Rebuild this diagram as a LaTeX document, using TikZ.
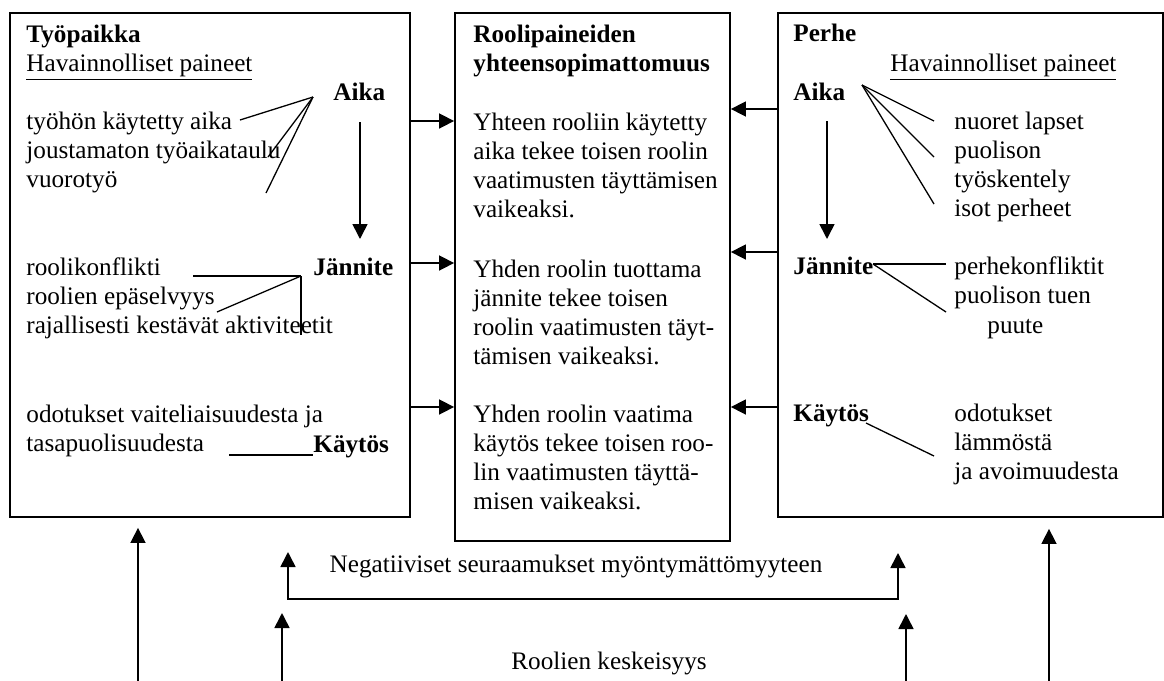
\documentclass[tikz,border=0pt]{standalone}
\usepackage{fontspec}
\setmainfont{Liberation Serif}
\usetikzlibrary{arrows.meta, positioning}
\tikzset{
  box/.style  = {draw, line width=0.9pt, inner sep=0pt},
  txt/.style  = {inner sep=0pt, anchor=base west, align=left, font=\fontsize{12.6pt}{14.5pt}\selectfont},
  hd/.style   = {txt, font=\fontsize{12.6pt}{14.5pt}\selectfont\bfseries},
  ln/.style   = {draw, line width=0.65pt},
  arr/.style  = {draw, line width=0.8pt, -{Triangle[length=7.5pt, width=7.5pt]}},
  darr/.style = {draw, line width=0.8pt, {Triangle[length=7.5pt, width=7.5pt]}-{Triangle[length=7.5pt, width=7.5pt]}},
}
\begin{document}
\begin{tikzpicture}[x=0.5pt, y=-0.5pt]
\useasboundingbox (0,0) rectangle (1164,681);

% boxes
\node [box, minimum width=200pt,   minimum height=252pt] at (210  , 265) (tyo)   {};
\node [box, minimum width=137.5pt, minimum height=264pt] at (592.5, 277) (rool)  {};
\node [box, minimum width=192.5pt, minimum height=252pt] at (970.5, 265) (perhe) {};

% tyopaikka (multi-line nodes sit on their last line)
\node [hd]  at ( 26,  42) (tyoT)  {Työpaikka};
\node [txt] at ( 26,  71) (tyoH)  {\underline{Havainnolliset paineet}};
\node [hd]  at (333, 100) (tyoA)  {Aika};
\node [txt] at ( 26, 187) (tyoAt) {työhön käytetty aika\\joustamaton työaikataulu\\vuorotyö};
\node [hd]  at (313, 275) (tyoJ)  {Jännite};
\node [txt] at ( 26, 333) (tyoJt) {roolikonflikti\\roolien epäselvyys\\rajallisesti kestävät aktiviteetit};
\node [txt] at ( 26, 451) (tyoKt) {odotukset vaiteliaisuudesta ja\\tasapuolisuudesta};
\node [hd]  at (313, 452) (tyoK)  {Käytös};

% roolipaineet
\node [hd]  at (473,  71) (roolT) {Roolipaineiden\\yhteensopimattomuus};
\node [txt] at (473, 217) (roolA) {Yhteen rooliin käytetty\\aika tekee toisen roolin\\vaatimusten täyttämisen\\vaikeaksi.};
\node [txt] at (473, 364) (roolJ) {Yhden roolin tuottama\\jännite tekee toisen\\roolin vaatimusten täyt-\\tämisen vaikeaksi.};
\node [txt] at (473, 509) (roolK) {Yhden roolin vaatima\\käytös tekee toisen roo-\\lin vaatimusten täyttä-\\misen vaikeaksi.};

% perhe
\node [hd]  at (793,  41) (perT)  {Perhe};
\node [txt] at (890,  71) (perH)  {\underline{Havainnolliset paineet}};
\node [hd]  at (793, 100) (perA)  {Aika};
\node [txt] at (954, 216) (perAt) {nuoret lapset\\puolison\\työskentely\\isot perheet};
\node [hd]  at (793, 274) (perJ)  {Jännite};
\node [txt] at (954, 303) (perJt) {perhekonfliktit\\puolison tuen};
\node [txt] at (987, 333) (perJp) {puute};
\node [hd]  at (793, 421) (perK)  {Käytös};
\node [txt] at (954, 479) (perKt) {odotukset\\lämmöstä\\ja avoimuudesta};

% bottom labels
\node [txt, anchor=center] at (576, 566) (neg)  {Negatiiviset seuraamukset myöntymättömyyteen};
\node [txt, anchor=center] at (609, 663) (kesk) {Roolien keskeisyys};

% fan points
\coordinate (tyoAp) at (313,  97);
\coordinate (tyoA1) at (240, 120);
\coordinate (tyoA2) at (268, 157);
\coordinate (tyoA3) at (266, 193);
\coordinate (tyoAd) at (360, 122);
\coordinate (tyoJu) at (360, 239);
\coordinate (tyoJp) at (301, 276);
\coordinate (tyoJ1) at (193, 276);
\coordinate (tyoJ2) at (217, 312);
\coordinate (tyoJ3) at (301, 335);
\coordinate (tyoK1) at (229, 455);
\coordinate (perAp) at (862,  85);
\coordinate (perA1) at (934, 121);
\coordinate (perA2) at (934, 157);
\coordinate (perA3) at (934, 204);
\coordinate (perAd) at (827, 121);
\coordinate (perJu) at (827, 239);
\coordinate (perJp) at (873, 264);
\coordinate (perJ1) at (946, 264);
\coordinate (perJ2) at (946, 312);
\coordinate (perKp) at (866, 423);
\coordinate (perK1) at (934, 456);
\coordinate (negLt) at (288, 552);
\coordinate (negR)  at (898, 599);
\coordinate (negRt) at (898, 553);
\coordinate (b1)    at ( 138, 681);
\coordinate (b2)    at ( 282, 681);
\coordinate (b3)    at ( 906, 681);
\coordinate (b4)    at (1049, 681);

% fans
\path [ln]
  (tyoAp) edge (tyoA1)
  (tyoAp) edge (tyoA2)
  (tyoAp) edge (tyoA3)
  (tyoJp) edge (tyoJ1)
  (tyoJp) edge (tyoJ2)
  (tyoJp) edge (tyoJ3)
  (tyoK1) edge (tyoK1 -| tyoK.west)
  (perAp) edge (perA1)
  (perAp) edge (perA2)
  (perAp) edge (perA3)
  (perJp) edge (perJ1)
  (perJp) edge (perJ2)
  (perKp) edge (perK1);

% arrows
\path [arr]
  (tyoAd) edge (tyoJu)
  (perAd) edge (perJu)
  (tyo.east |- 0,121)   edge (rool.west |- 0,121)
  (tyo.east |- 0,263)   edge (rool.west |- 0,263)
  (tyo.east |- 0,407)   edge (rool.west |- 0,407)
  (perhe.west |- 0,109) edge (rool.east |- 0,109)
  (perhe.west |- 0,252) edge (rool.east |- 0,252)
  (perhe.west |- 0,407) edge (rool.east |- 0,407)
  (b1) edge ([yshift=-5pt]tyo.south -| b1)
  (b2) edge ++(0,-68)
  (b3) edge ++(0,-67)
  (b4) edge ([yshift=-5.5pt]perhe.south -| b4);
\draw [darr] (negLt) |- (negR) -- (negRt);

\end{tikzpicture}
\end{document}
